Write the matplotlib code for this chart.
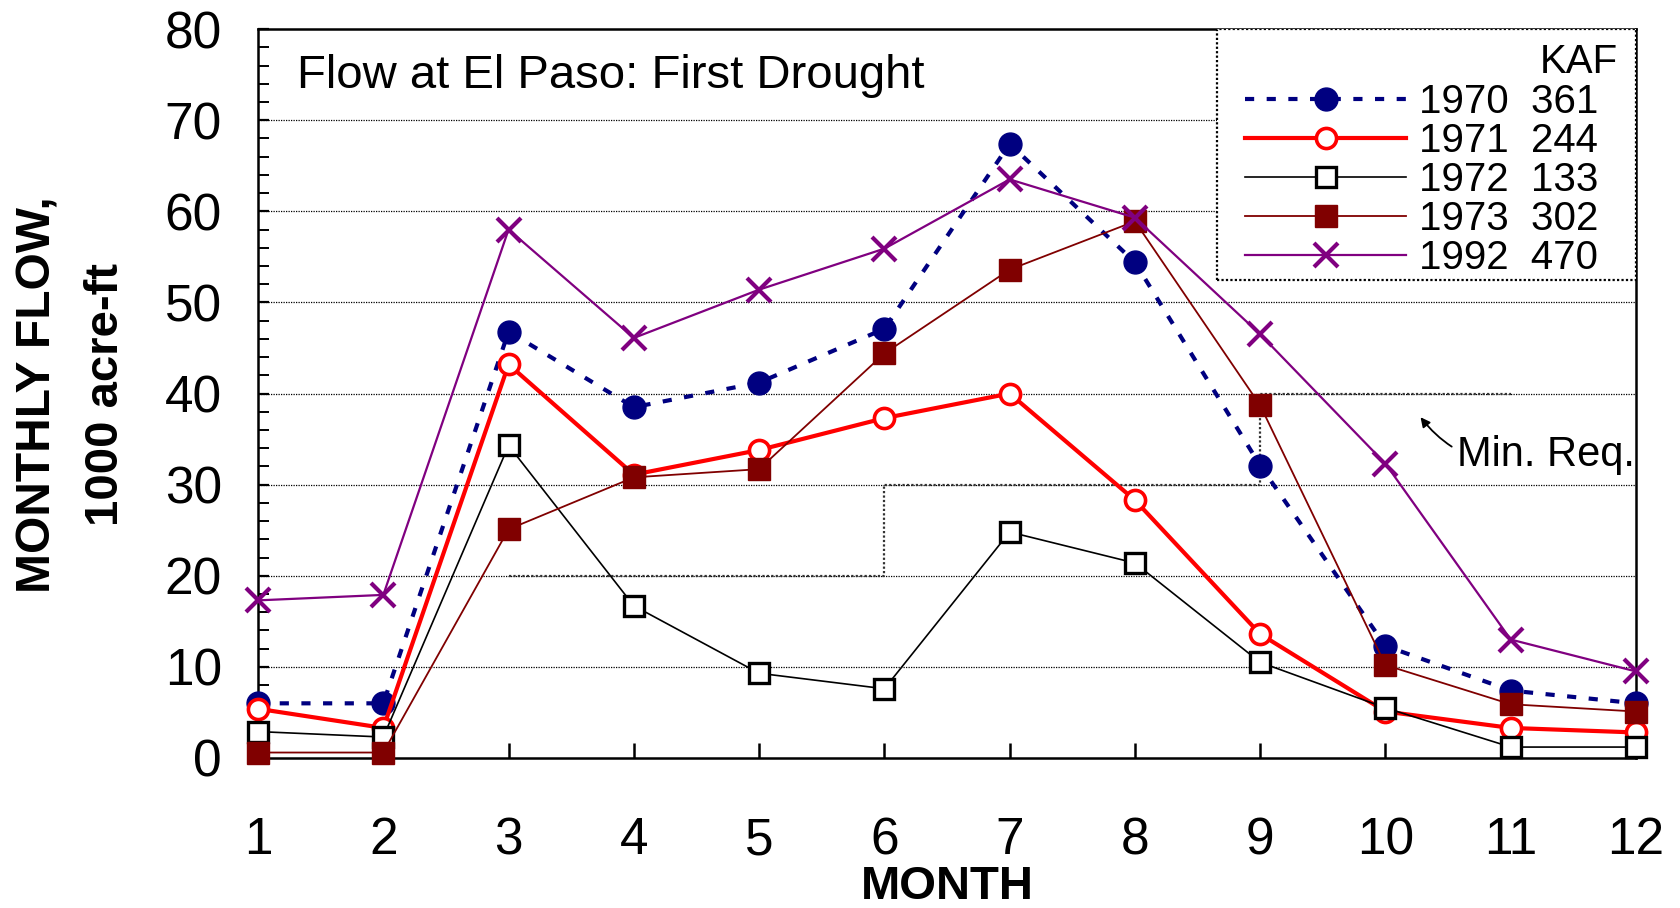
import matplotlib
matplotlib.use("Agg")
import matplotlib.pyplot as plt
from matplotlib.patches import Rectangle
from matplotlib.ticker import MultipleLocator

plt.rcParams['font.family'] = ['Liberation Sans', 'DejaVu Sans']

# monthly flow, 1000 acre-ft
months = list(range(1, 13))
flow_1970 = [6.0, 6.0, 46.8, 38.5, 41.2, 47.1, 67.4, 54.4, 32.1, 12.3, 7.4, 6.0]
flow_1971 = [5.4, 3.3, 43.2, 31.1, 33.8, 37.3, 40.0, 28.3, 13.6, 5.1, 3.3, 2.8]
flow_1972 = [2.9, 2.3, 34.3, 16.7, 9.3, 7.6, 24.8, 21.4, 10.5, 5.5, 1.2, 1.2]
flow_1973 = [0.6, 0.6, 25.1, 30.8, 31.7, 44.4, 53.6, 58.9, 38.7, 10.2, 5.9, 5.1]
flow_1992 = [17.3, 17.9, 58.0, 46.1, 51.4, 55.9, 63.5, 59.3, 46.5, 32.3, 13.0, 9.5]

years = ['1970', '1971', '1972', '1973', '1992']
kaf_totals = [361, 244, 133, 302, 470]

# minimum requirement steps (month where each level starts, level)
req_months = [3, 6, 9, 11]
req_flow = [20, 30, 40, 40]

fig = plt.figure(figsize=(16.8, 9.08), dpi=100)
ax = fig.add_axes([0.1536, 0.1652, 0.8202, 0.8028])

styles = [
    dict(color='#000080', lw=3.0, ls=(0, (2.2, 3.0)), marker='o', ms=16.5,
         mfc='#000080', mec='#000080'),
    dict(color='#ff0000', lw=3.0, ls='-', marker='o', ms=14.5,
         mfc='white', mec='#ff0000', mew=2.6),
    dict(color='black', lw=1.2, ls='-', marker='s', ms=14.5,
         mfc='white', mec='black', mew=2.4),
    dict(color='#800000', lw=1.3, ls='-', marker='s', ms=16.5,
         mfc='#800000', mec='#800000'),
    dict(color='#800080', lw=1.6, ls='-', marker='x', ms=17,
         mew=3.0),
]
series = [flow_1970, flow_1971, flow_1972, flow_1973, flow_1992]

handles = []
for vals, st in zip(series, styles):
    h, = ax.plot(months, vals, clip_on=False, zorder=3, **st)
    handles.append(h)

ax.step(req_months, req_flow, where='post', color='#333333', lw=1.6,
        ls=(0, (1, 1)), zorder=2)

ax.set_xlim(1, 12)
ax.set_ylim(0, 80)
ax.set_xticks(months)
ax.yaxis.set_major_locator(MultipleLocator(10))
ax.yaxis.set_minor_locator(MultipleLocator(2))

for y in range(10, 80, 10):
    ax.axhline(y, color='black', lw=0.9, ls=(0, (1, 1)), zorder=1)

for s in ax.spines.values():
    s.set_linewidth(1.8)

ax.tick_params(axis='x', direction='in', length=11, width=1.8, pad=42,
               labelsize=37, top=False)
ax.tick_params(axis='y', which='major', direction='in', length=8, width=1.6,
               pad=26, labelsize=37, right=False)
ax.tick_params(axis='y', which='minor', direction='in', length=8, width=1.4,
               right=False)

ax.set_xlabel('MONTH', fontsize=34, fontweight='bold', labelpad=0)

fig.text(38 / 1680, 0.565, 'MONTHLY FLOW,', rotation=90, fontsize=34.5,
         fontweight='bold', ha='center', va='center')
fig.text(106 / 1680, 0.565, '1000 acre-ft', rotation=90, fontsize=34,
         fontweight='bold', ha='center', va='center')

ax.text(1.31, 74.9, 'Flow at El Paso: First Drought', fontsize=34,
        ha='left', va='center')

ax.annotate('Min. Req.', xy=(10.28, 37.4), xytext=(10.57, 33.2),
            fontsize=30, ha='left', va='center',
            arrowprops=dict(arrowstyle='-|>', color='black', lw=1.3,
                            connectionstyle='arc3,rad=-0.35',
                            shrinkA=2, shrinkB=0, mutation_scale=14))

# legend box
box = Rectangle((0.696, 0.6557), 0.304, 0.3443, transform=ax.transAxes,
                facecolor='white', edgecolor='black', lw=1.6,
                ls=(0, (1, 1)), zorder=4)
ax.add_patch(box)

labels = [f'{y}  {k}' for y, k in zip(years, kaf_totals)]
leg = ax.legend(handles, labels, loc='upper left',
                bbox_to_anchor=(0.7163, 0.9254), frameon=False,
                fontsize=29, borderpad=0, handlelength=4.0,
                handletextpad=0.32, labelspacing=0.02, borderaxespad=0)
leg.set_zorder(5)
ax.text(0.987, 0.955, 'KAF', transform=ax.transAxes, fontsize=29,
        ha='right', va='center', zorder=6)

fig.savefig('out.png', dpi=100)
